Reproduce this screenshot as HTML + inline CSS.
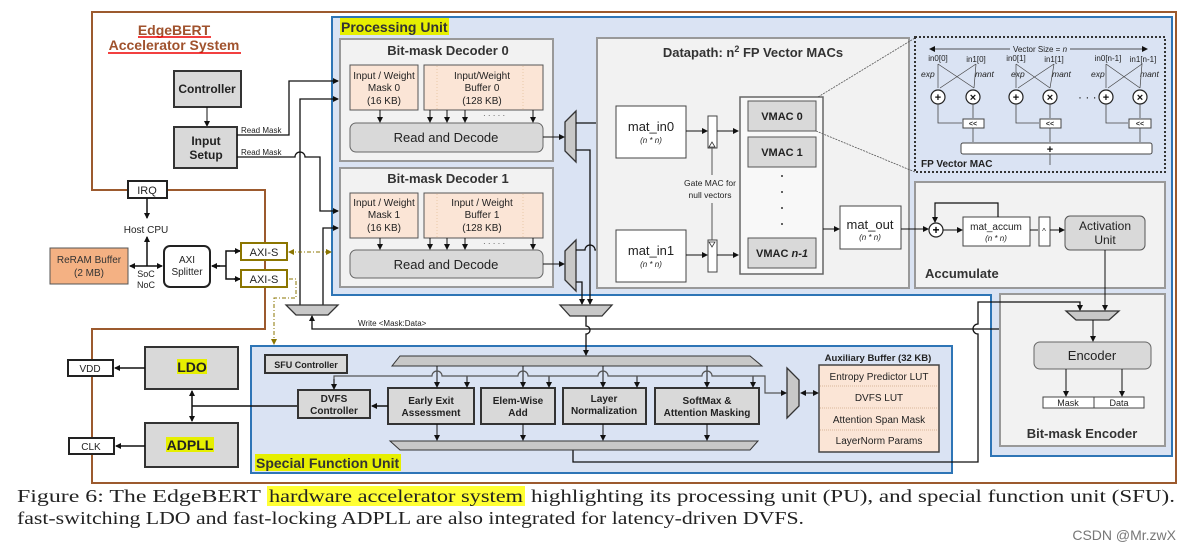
<!DOCTYPE html>
<html><head><meta charset="utf-8"><style>
html,body{margin:0;padding:0;background:#fff;}
svg{display:block;font-family:"Liberation Sans",Arial,sans-serif;}
.b{font-weight:bold}
</style></head><body>
<svg width="1191" height="549" viewBox="0 0 1191 549" xmlns="http://www.w3.org/2000/svg">
<defs>
<marker id="a" markerWidth="6" markerHeight="6" refX="5" refY="3" orient="auto" markerUnits="userSpaceOnUse"><path d="M0,0 L6,3 L0,6z" fill="#111"/></marker>
<marker id="as" markerWidth="6" markerHeight="6" refX="1" refY="3" orient="auto" markerUnits="userSpaceOnUse"><path d="M6,0 L0,3 L6,6z" fill="#111"/></marker>
<marker id="ao" markerWidth="6" markerHeight="6" refX="5" refY="3" orient="auto" markerUnits="userSpaceOnUse"><path d="M0,0 L6,3 L0,6z" fill="#8b7500"/></marker>
<marker id="aos" markerWidth="6" markerHeight="6" refX="1" refY="3" orient="auto" markerUnits="userSpaceOnUse"><path d="M6,0 L0,3 L6,6z" fill="#8b7500"/></marker>
</defs>

<path d="M92,190 L92,12 L1176,12 L1176,483 L92,483 L92,329 L265,329 L265,190 Z" fill="none" stroke="#9c5a2e" stroke-width="2"/>

<path d="M332,17 L1172,17 L1172,456 L991,456 L991,295 L332,295 Z" fill="#dae3f3" stroke="#2e75b6" stroke-width="2"/>
<rect x="340" y="18" width="109" height="17" fill="#e6ef00"/>
<text x="341" y="32" class="b" font-size="14" fill="#333">Processing Unit</text>

<rect x="251" y="346" width="701" height="127" fill="#dae3f3" stroke="#2e75b6" stroke-width="2"/>
<rect x="255" y="454" width="146" height="17" fill="#e6ef00"/>
<text x="256" y="468" class="b" font-size="14" fill="#333">Special Function Unit</text>

<text x="174" y="35" text-anchor="middle" class="b" font-size="14" fill="#a0522d">EdgeBERT</text>
<line x1="138" y1="37" x2="211" y2="37" stroke="#e00" stroke-width="1.5"/>
<text x="174" y="50" text-anchor="middle" class="b" font-size="14" fill="#a0522d">Accelerator System</text>
<line x1="108" y1="53" x2="241" y2="53" stroke="#e00" stroke-width="1.5"/>

<rect x="174" y="71" width="67" height="36" fill="#d9d9d9" stroke="#333" stroke-width="2"/>
<text x="207" y="93" text-anchor="middle" class="b" font-size="12" fill="#222">Controller</text>
<line x1="207" y1="107" x2="207" y2="126" stroke="#111" marker-end="url(#a)"/>
<rect x="174" y="127" width="63" height="41" fill="#d9d9d9" stroke="#333" stroke-width="2"/>
<text x="206" y="145" text-anchor="middle" class="b" font-size="12" fill="#222">Input</text>
<text x="206" y="159" text-anchor="middle" class="b" font-size="12" fill="#222">Setup</text>
<text x="241" y="133" font-size="8" fill="#222">Read Mask</text>
<text x="241" y="155" font-size="8" fill="#222">Read Mask</text>
<path d="M237,135 L289,135 L289,81 L338,81" fill="none" stroke="#111" stroke-width="1.3" marker-end="url(#a)"/>
<path d="M237,157 L295,157 A5,5 0 0 1 305,157 L320,157 L320,211 L338,211" fill="none" stroke="#111" stroke-width="1.3" marker-end="url(#a)"/>
<path d="M300,305 L300,99 L338,99" fill="none" stroke="#111" stroke-width="1.3" marker-end="url(#a)"/>
<path d="M323,305 L323,228 L338,228" fill="none" stroke="#111" stroke-width="1.3" marker-end="url(#a)"/>

<rect x="340" y="39" width="213" height="122" fill="#f2f2f2" stroke="#999" stroke-width="2"/>
<text x="448" y="55" text-anchor="middle" class="b" font-size="13" fill="#333">Bit-mask Decoder 0</text>
<rect x="350" y="65" width="68" height="45" fill="#fbe5d6" stroke="#555"/>
<text x="384" y="79" text-anchor="middle" font-size="10" fill="#222">Input / Weight</text>
<text x="384" y="91" text-anchor="middle" font-size="10" fill="#222">Mask 0</text>
<text x="384" y="104" text-anchor="middle" font-size="10" fill="#222">(16 KB)</text>
<rect x="424" y="65" width="119" height="45" fill="#fbe5d6" stroke="#555"/>
<line x1="437" y1="66" x2="437" y2="109" stroke="#e8c9a8" stroke-dasharray="1,2"/>
<line x1="523" y1="66" x2="523" y2="109" stroke="#e8c9a8" stroke-dasharray="1,2"/>
<text x="482" y="79" text-anchor="middle" font-size="10" fill="#222">Input/Weight</text>
<text x="482" y="91" text-anchor="middle" font-size="10" fill="#222">Buffer 0</text>
<text x="482" y="104" text-anchor="middle" font-size="10" fill="#222">(128 KB)</text>
<rect x="350" y="123" width="193" height="29" rx="6" fill="#d9d9d9" stroke="#666"/>
<text x="446" y="142" text-anchor="middle" font-size="13" fill="#222">Read and Decode</text>
<g stroke="#111" marker-end="url(#a)"><line x1="380" y1="110" x2="380" y2="122"/><line x1="430" y1="110" x2="430" y2="122"/><line x1="447" y1="110" x2="447" y2="122"/><line x1="465" y1="110" x2="465" y2="122"/><line x1="533" y1="110" x2="533" y2="122"/></g>
<text x="483" y="118" font-size="8" fill="#444">·  ·  ·  ·  ·</text>

<rect x="340" y="168" width="213" height="119" fill="#f2f2f2" stroke="#999" stroke-width="2"/>
<text x="448" y="183" text-anchor="middle" class="b" font-size="13" fill="#333">Bit-mask Decoder 1</text>
<rect x="350" y="193" width="68" height="45" fill="#fbe5d6" stroke="#555"/>
<text x="384" y="206" text-anchor="middle" font-size="10" fill="#222">Input / Weight</text>
<text x="384" y="218" text-anchor="middle" font-size="10" fill="#222">Mask 1</text>
<text x="384" y="231" text-anchor="middle" font-size="10" fill="#222">(16 KB)</text>
<rect x="424" y="193" width="119" height="45" fill="#fbe5d6" stroke="#555"/>
<line x1="437" y1="194" x2="437" y2="237" stroke="#e8c9a8" stroke-dasharray="1,2"/>
<line x1="523" y1="194" x2="523" y2="237" stroke="#e8c9a8" stroke-dasharray="1,2"/>
<text x="482" y="206" text-anchor="middle" font-size="10" fill="#222">Input / Weight</text>
<text x="482" y="218" text-anchor="middle" font-size="10" fill="#222">Buffer 1</text>
<text x="482" y="231" text-anchor="middle" font-size="10" fill="#222">(128 KB)</text>
<rect x="350" y="250" width="193" height="28" rx="6" fill="#d9d9d9" stroke="#666"/>
<text x="446" y="269" text-anchor="middle" font-size="13" fill="#222">Read and Decode</text>
<g stroke="#111" marker-end="url(#a)"><line x1="380" y1="238" x2="380" y2="249"/><line x1="430" y1="238" x2="430" y2="249"/><line x1="447" y1="238" x2="447" y2="249"/><line x1="465" y1="238" x2="465" y2="249"/><line x1="533" y1="238" x2="533" y2="249"/></g>
<text x="483" y="246" font-size="8" fill="#444">·  ·  ·  ·  ·</text>

<polygon points="565,122 576,111 576,162 565,151" fill="#c8c8c8" stroke="#333" stroke-width="1.3"/>
<polygon points="565,251 576,240 576,291 565,280" fill="#c8c8c8" stroke="#333" stroke-width="1.3"/>
<line x1="543" y1="137" x2="564" y2="137" stroke="#111" marker-end="url(#a)"/>
<line x1="543" y1="264" x2="564" y2="264" stroke="#111" marker-end="url(#a)"/>
<line x1="576" y1="123" x2="615" y2="123" stroke="#111" stroke-width="1.3" marker-end="url(#a)"/>
<path d="M576,250 L585,250 A5,5 0 0 1 595,250 L615,250" fill="none" stroke="#111" stroke-width="1.3" marker-end="url(#a)"/>
<path d="M576,150 L590,150 L590,304" fill="none" stroke="#111" stroke-width="1.3" marker-end="url(#a)"/>
<path d="M576,282 L582,282 L582,304" fill="none" stroke="#111" stroke-width="1.3" marker-end="url(#a)"/>
<polygon points="560,305 612,305 602,316 570,316" fill="#c8c8c8" stroke="#333" stroke-width="1.3"/>
<path d="M586,316 L586,326 A4,4 0 0 1 586,334 L586,355" fill="none" stroke="#111" stroke-width="1.3" marker-end="url(#a)"/>

<polygon points="286,305 338,305 328,315 296,315" fill="#c8c8c8" stroke="#333" stroke-width="1.3"/>
<text x="358" y="326" font-size="8" fill="#222">Write &lt;Mask:Data&gt;</text>
<path d="M1043,403 L1022,403 L1022,329 L312,329 L312,316" fill="none" stroke="#111" stroke-width="1.3" marker-end="url(#a)"/>

<rect x="597" y="38" width="312" height="250" fill="#f2f2f2" stroke="#999" stroke-width="2"/>
<text x="753" y="57" text-anchor="middle" class="b" font-size="13" fill="#333">Datapath: n<tspan font-size="9" dy="-5">2</tspan><tspan dy="5"> FP Vector MACs</tspan></text>
<rect x="616" y="106" width="70" height="52" fill="#fff" stroke="#444"/>
<text x="651" y="131" text-anchor="middle" font-size="13" fill="#222">mat_in0</text>
<text x="651" y="143" text-anchor="middle" font-size="8" font-style="italic" fill="#222">(n * n)</text>
<rect x="616" y="230" width="70" height="52" fill="#fff" stroke="#444"/>
<text x="651" y="255" text-anchor="middle" font-size="13" fill="#222">mat_in1</text>
<text x="651" y="267" text-anchor="middle" font-size="8" font-style="italic" fill="#222">(n * n)</text>
<rect x="708" y="116" width="9" height="32" fill="#fff" stroke="#444"/>
<rect x="708" y="240" width="9" height="32" fill="#fff" stroke="#444"/>
<line x1="686" y1="131" x2="707" y2="131" stroke="#111" marker-end="url(#a)"/>
<line x1="717" y1="131" x2="738" y2="131" stroke="#111" marker-end="url(#a)"/>
<line x1="686" y1="255" x2="707" y2="255" stroke="#111" marker-end="url(#a)"/>
<line x1="717" y1="255" x2="738" y2="255" stroke="#111" marker-end="url(#a)"/>
<line x1="712" y1="148" x2="712" y2="175" stroke="#555"/>
<line x1="712" y1="203" x2="712" y2="240" stroke="#555"/>
<polygon points="709,147 715,147 712,142" fill="none" stroke="#333" stroke-width="0.8"/>
<polygon points="709,242 715,242 712,247" fill="none" stroke="#333" stroke-width="0.8"/>
<text x="710" y="186" text-anchor="middle" font-size="8.5" fill="#222">Gate MAC for</text>
<text x="710" y="198" text-anchor="middle" font-size="8.5" fill="#222">null vectors</text>
<rect x="740" y="97" width="83" height="177" fill="#f8f8f8" stroke="#666" stroke-width="1.5"/>
<rect x="748" y="101" width="68" height="30" fill="#d9d9d9" stroke="#555"/>
<text x="782" y="120" text-anchor="middle" class="b" font-size="11" fill="#222">VMAC 0</text>
<rect x="748" y="137" width="68" height="30" fill="#d9d9d9" stroke="#555"/>
<text x="782" y="156" text-anchor="middle" class="b" font-size="11" fill="#222">VMAC 1</text>
<rect x="748" y="238" width="68" height="30" fill="#d9d9d9" stroke="#555"/>
<text x="782" y="257" text-anchor="middle" class="b" font-size="11" fill="#222">VMAC <tspan font-style="italic">n-1</tspan></text>
<g fill="#333"><circle cx="782" cy="176" r="1"/><circle cx="782" cy="192" r="1"/><circle cx="782" cy="208" r="1"/><circle cx="782" cy="224" r="1"/></g>
<line x1="823" y1="229" x2="839" y2="229" stroke="#111" marker-end="url(#a)"/>
<rect x="840" y="206" width="61" height="43" fill="#fff" stroke="#444"/>
<text x="870" y="229" text-anchor="middle" font-size="13" fill="#222">mat_out</text>
<text x="870" y="240" text-anchor="middle" font-size="8" font-style="italic" fill="#222">(n * n)</text>
<line x1="818" y1="97" x2="915" y2="38" stroke="#555" stroke-width="0.8" stroke-dasharray="2,1"/>
<line x1="816" y1="131" x2="915" y2="172" stroke="#555" stroke-width="0.8" stroke-dasharray="2,1"/>

<rect x="915" y="37" width="250" height="135" fill="#dae3f3" stroke="#333" stroke-width="2" stroke-dasharray="2,2"/>
<text x="1040" y="52" text-anchor="middle" font-size="8" fill="#222">Vector Size = <tspan font-style="italic">n</tspan></text>
<line x1="1010" y1="49" x2="930" y2="49" stroke="#222" stroke-width="0.8" marker-end="url(#a)"/>
<line x1="1070" y1="49" x2="1147" y2="49" stroke="#222" stroke-width="0.8" marker-end="url(#a)"/>
<g font-size="8" fill="#222" text-anchor="middle">
<text x="938" y="61">in0[0]</text><text x="976" y="62">in1[0]</text>
<text x="1016" y="61">in0[1]</text><text x="1054" y="62">in1[1]</text>
<text x="1108" y="61">in0[n-1]</text><text x="1143" y="62">in1[n-1]</text>
</g>
<g font-size="8.5" font-style="italic" fill="#222">
<text x="921" y="77">exp</text><text x="975" y="77">mant</text>
<text x="1011" y="77">exp</text><text x="1052" y="77">mant</text>
<text x="1091" y="77">exp</text><text x="1140" y="77">mant</text>
</g>
<g stroke="#444" stroke-width="0.7" fill="none">
<path d="M938,64 L974,88 M976,64 L940,88 M938,64 L938,88 M976,64 L974,88"/>
<path d="M1016,64 L1050,88 M1054,64 L1018,88 M1016,64 L1016,88 M1054,64 L1050,88"/>
<path d="M1106,64 L1140,88 M1142,64 L1108,88 M1106,64 L1106,88 M1142,64 L1140,88"/>
</g>
<g fill="#fff" stroke="#222" stroke-width="1.2">
<circle cx="938" cy="97" r="7"/><circle cx="973" cy="97" r="7"/>
<circle cx="1016" cy="97" r="7"/><circle cx="1050" cy="97" r="7"/>
<circle cx="1106" cy="97" r="7"/><circle cx="1140" cy="97" r="7"/>
</g>
<g font-size="11" class="b" fill="#111" text-anchor="middle">
<text x="938" y="101">+</text><text x="973" y="101">×</text>
<text x="1016" y="101">+</text><text x="1050" y="101">×</text>
<text x="1106" y="101">+</text><text x="1140" y="101">×</text>
</g>
<text x="1078" y="101" font-size="12" fill="#222">· · ·</text>
<g stroke="#444" stroke-width="0.8" fill="none">
<path d="M938,104 L938,123 L962,123"/><path d="M1016,104 L1016,123 L1039,123"/><path d="M1106,104 L1106,123 L1128,123"/>
<path d="M973,104 L973,118 M1050,104 L1050,118 M1140,104 L1140,118"/>
<path d="M973,128 L973,142 M1050,128 L1050,142 M1140,128 L1140,142"/>
<path d="M1050,154 L1050,165"/>
</g>
<g fill="#fff" stroke="#444"><rect x="963" y="119" width="21" height="9"/><rect x="1040" y="119" width="21" height="9"/><rect x="1129" y="119" width="22" height="9"/></g>
<g font-size="7" class="b" fill="#222" text-anchor="middle"><text x="973" y="126">&lt;&lt;</text><text x="1050" y="126">&lt;&lt;</text><text x="1140" y="126">&lt;&lt;</text></g>
<rect x="961" y="143" width="191" height="11" rx="2" fill="#fff" stroke="#444"/>
<text x="1050" y="153" text-anchor="middle" font-size="11" class="b" fill="#111">+</text>
<text x="921" y="167" class="b" font-size="10" fill="#222">FP Vector MAC</text>

<rect x="915" y="182" width="250" height="106" fill="#f2f2f2" stroke="#999" stroke-width="2"/>
<line x1="901" y1="229" x2="928" y2="229" stroke="#111" marker-end="url(#a)"/>
<circle cx="936" cy="230" r="7" fill="#fff" stroke="#222" stroke-width="1.2"/>
<text x="936" y="234" text-anchor="middle" font-size="12" class="b">+</text>
<line x1="943" y1="230" x2="962" y2="230" stroke="#111" marker-end="url(#a)"/>
<rect x="963" y="217" width="67" height="29" fill="#fff" stroke="#444"/>
<text x="996" y="230" text-anchor="middle" font-size="10" fill="#222">mat_accum</text>
<text x="996" y="241" text-anchor="middle" font-size="8" font-style="italic" fill="#222">(n * n)</text>
<path d="M998,217 L998,203 L935,203 L935,222" fill="none" stroke="#111" stroke-width="1.2" marker-end="url(#a)"/>
<line x1="1030" y1="230" x2="1038" y2="230" stroke="#111"/>
<rect x="1039" y="217" width="11" height="29" fill="#fff" stroke="#444"/>
<text x="1044" y="234" text-anchor="middle" font-size="8" fill="#222">^</text>
<line x1="1050" y1="230" x2="1064" y2="230" stroke="#111" marker-end="url(#a)"/>
<rect x="1065" y="216" width="80" height="34" rx="5" fill="#d9d9d9" stroke="#555"/>
<text x="1105" y="230" text-anchor="middle" font-size="12" fill="#222">Activation</text>
<text x="1105" y="244" text-anchor="middle" font-size="12" fill="#222">Unit</text>
<text x="925" y="278" class="b" font-size="13" fill="#333">Accumulate</text>

<rect x="1000" y="294" width="165" height="152" fill="#f2f2f2" stroke="#999" stroke-width="2"/>
<line x1="1105" y1="250" x2="1105" y2="310" stroke="#111" marker-end="url(#a)"/>
<polygon points="1066,311 1119,311 1109,320 1076,320" fill="#c8c8c8" stroke="#333" stroke-width="1.3"/>
<line x1="1093" y1="320" x2="1093" y2="341" stroke="#111" marker-end="url(#a)"/>
<rect x="1034" y="342" width="117" height="27" rx="6" fill="#d9d9d9" stroke="#666"/>
<text x="1092" y="360" text-anchor="middle" font-size="13" fill="#222">Encoder</text>
<line x1="1066" y1="369" x2="1066" y2="396" stroke="#111" marker-end="url(#a)"/>
<line x1="1122" y1="369" x2="1122" y2="396" stroke="#111" marker-end="url(#a)"/>
<rect x="1043" y="397" width="51" height="11" fill="#fff" stroke="#444"/>
<rect x="1094" y="397" width="50" height="11" fill="#fff" stroke="#444"/>
<text x="1068" y="406" text-anchor="middle" font-size="9" fill="#222">Mask</text>
<text x="1119" y="406" text-anchor="middle" font-size="9" fill="#222">Data</text>
<text x="1082" y="438" text-anchor="middle" class="b" font-size="13" fill="#333">Bit-mask Encoder</text>
<path d="M573,450 L573,462 L978,462 L978,334 A5,5 0 0 1 978,324 L978,302 L1080,302 L1080,310" fill="none" stroke="#111" stroke-width="1.3" marker-end="url(#a)"/>

<rect x="128" y="181" width="39" height="17" fill="#fff" stroke="#222" stroke-width="2"/>
<text x="147" y="194" text-anchor="middle" font-size="11" fill="#222">IRQ</text>
<line x1="147" y1="198" x2="147" y2="218" stroke="#111" stroke-width="1.5" marker-end="url(#a)"/>
<text x="146" y="233" text-anchor="middle" font-size="10" fill="#222">Host CPU</text>
<rect x="50" y="248" width="78" height="36" fill="#f4b183" stroke="#555"/>
<text x="89" y="263" text-anchor="middle" font-size="10" fill="#333">ReRAM Buffer</text>
<text x="89" y="276" text-anchor="middle" font-size="10" fill="#333">(2 MB)</text>
<line x1="130" y1="266" x2="162" y2="266" stroke="#111" stroke-width="1.5" marker-start="url(#as)" marker-end="url(#a)"/>
<line x1="147" y1="266" x2="147" y2="237" stroke="#111" stroke-width="1.5" marker-end="url(#a)"/>
<text x="146" y="277" text-anchor="middle" font-size="9" fill="#222">SoC</text>
<text x="146" y="288" text-anchor="middle" font-size="9" fill="#222">NoC</text>
<rect x="164" y="246" width="46" height="41" rx="6" fill="#fff" stroke="#222" stroke-width="2"/>
<text x="187" y="263" text-anchor="middle" font-size="10" fill="#222">AXI</text>
<text x="187" y="275" text-anchor="middle" font-size="10" fill="#222">Splitter</text>
<path d="M212,266 L226,266 L226,251 L240,251 M226,266 L226,279 L240,279" fill="none" stroke="#111" stroke-width="1.5"/>
<line x1="220" y1="266" x2="212" y2="266" stroke="#111" stroke-width="1.5" marker-end="url(#a)"/>
<line x1="234" y1="251" x2="240" y2="251" stroke="#111" stroke-width="1.5" marker-end="url(#a)"/>
<line x1="234" y1="279" x2="240" y2="279" stroke="#111" stroke-width="1.5" marker-end="url(#a)"/>
<rect x="241" y="243" width="46" height="17" fill="#fff" stroke="#8b7500" stroke-width="2"/>
<text x="264" y="256" text-anchor="middle" font-size="11" fill="#222">AXI-S</text>
<rect x="241" y="270" width="46" height="17" fill="#fff" stroke="#8b7500" stroke-width="2"/>
<text x="264" y="283" text-anchor="middle" font-size="11" fill="#222">AXI-S</text>
<line x1="289" y1="252" x2="331" y2="252" stroke="#8b7500" stroke-width="1" stroke-dasharray="4,2,1,2" marker-start="url(#aos)" marker-end="url(#ao)"/>
<path d="M289,279 L296,279 L296,298 L274,298 L274,344" fill="none" stroke="#8b7500" stroke-width="1" stroke-dasharray="4,2,1,2" marker-end="url(#ao)"/>

<rect x="68" y="360" width="45" height="16" fill="#fff" stroke="#222" stroke-width="2"/>
<text x="90" y="372" text-anchor="middle" font-size="10" fill="#222">VDD</text>
<rect x="69" y="438" width="45" height="16" fill="#fff" stroke="#222" stroke-width="2"/>
<text x="91" y="450" text-anchor="middle" font-size="10" fill="#222">CLK</text>
<rect x="145" y="347" width="93" height="42" fill="#d9d9d9" stroke="#333" stroke-width="2"/>
<rect x="177" y="359" width="30" height="15" fill="#e6ef00"/>
<text x="192" y="372" text-anchor="middle" class="b" font-size="14" fill="#222">LDO</text>
<rect x="145" y="423" width="93" height="44" fill="#d9d9d9" stroke="#333" stroke-width="2"/>
<rect x="166" y="437" width="48" height="15" fill="#e6ef00"/>
<text x="190" y="450" text-anchor="middle" class="b" font-size="14" fill="#222">ADPLL</text>
<line x1="145" y1="368" x2="115" y2="368" stroke="#111" stroke-width="1.5" marker-end="url(#a)"/>
<line x1="145" y1="446" x2="116" y2="446" stroke="#111" stroke-width="1.5" marker-end="url(#a)"/>
<line x1="192" y1="391" x2="192" y2="421" stroke="#111" stroke-width="1.5" marker-start="url(#as)" marker-end="url(#a)"/>
<line x1="192" y1="406" x2="298" y2="406" stroke="#111" stroke-width="1.5"/>

<rect x="265" y="355" width="82" height="18" fill="#d9d9d9" stroke="#333" stroke-width="2"/>
<text x="306" y="368" text-anchor="middle" class="b" font-size="9" fill="#222">SFU Controller</text>
<polygon points="400,356 750,356 762,366 392,366" fill="#c8c8c8" stroke="#333"/>
<polygon points="390,441 758,441 750,450 400,450" fill="#c8c8c8" stroke="#333"/>
<rect x="298" y="390" width="72" height="28" fill="#d9d9d9" stroke="#333" stroke-width="2"/>
<text x="334" y="402" text-anchor="middle" class="b" font-size="10" fill="#222">DVFS</text>
<text x="334" y="414" text-anchor="middle" class="b" font-size="10" fill="#222">Controller</text>
<rect x="388" y="388" width="86" height="36" fill="#d9d9d9" stroke="#333" stroke-width="2"/>
<text x="431" y="404" text-anchor="middle" class="b" font-size="10" fill="#222">Early Exit</text>
<text x="431" y="416" text-anchor="middle" class="b" font-size="10" fill="#222">Assessment</text>
<rect x="481" y="388" width="74" height="36" fill="#d9d9d9" stroke="#333" stroke-width="2"/>
<text x="518" y="404" text-anchor="middle" class="b" font-size="10" fill="#222">Elem-Wise</text>
<text x="518" y="416" text-anchor="middle" class="b" font-size="10" fill="#222">Add</text>
<rect x="563" y="388" width="83" height="36" fill="#d9d9d9" stroke="#333" stroke-width="2"/>
<text x="604" y="402" text-anchor="middle" class="b" font-size="10" fill="#222">Layer</text>
<text x="604" y="414" text-anchor="middle" class="b" font-size="10" fill="#222">Normalization</text>
<rect x="655" y="388" width="104" height="36" fill="#d9d9d9" stroke="#333" stroke-width="2"/>
<text x="707" y="404" text-anchor="middle" class="b" font-size="10" fill="#222">SoftMax &amp;</text>
<text x="707" y="416" text-anchor="middle" class="b" font-size="10" fill="#222">Attention Masking</text>
<line x1="388" y1="406" x2="372" y2="406" stroke="#111" stroke-width="1.5" marker-end="url(#a)"/>
<g stroke="#111" marker-end="url(#a)">
<line x1="437" y1="366" x2="437" y2="387"/><line x1="523" y1="366" x2="523" y2="387"/><line x1="603" y1="366" x2="603" y2="387"/><line x1="707" y1="366" x2="707" y2="387"/>
<line x1="437" y1="424" x2="437" y2="440"/><line x1="523" y1="424" x2="523" y2="440"/><line x1="603" y1="424" x2="603" y2="440"/><line x1="707" y1="424" x2="707" y2="440"/>
<line x1="467" y1="376" x2="467" y2="387"/><line x1="549" y1="376" x2="549" y2="387"/><line x1="637" y1="376" x2="637" y2="387"/><line x1="753" y1="376" x2="753" y2="387"/>
</g>
<path d="M334,389 L334,376 L432,376 A5,5 0 0 1 442,376 L518,376 A5,5 0 0 1 528,376 L598,376 A5,5 0 0 1 608,376 L702,376 A5,5 0 0 1 712,376 L765,376 L765,393 L786,393" fill="none" stroke="#555" stroke-width="1.2" marker-end="url(#a)"/>
<line x1="334" y1="379" x2="334" y2="389" stroke="#111" marker-end="url(#a)"/>
<polygon points="787,368 799,380 799,406 787,418" fill="#c8c8c8" stroke="#333" stroke-width="1.3"/>
<line x1="801" y1="393" x2="818" y2="393" stroke="#111" marker-start="url(#as)" marker-end="url(#a)"/>
<text x="878" y="361" text-anchor="middle" class="b" font-size="9.5" fill="#222">Auxiliary Buffer (32 KB)</text>
<rect x="819" y="365" width="120" height="87" fill="#fbe5d6" stroke="#444" stroke-width="1.5"/>
<g stroke="#d9b89a" stroke-dasharray="1,1"><line x1="820" y1="386" x2="938" y2="386"/><line x1="820" y1="408" x2="938" y2="408"/><line x1="820" y1="430" x2="938" y2="430"/></g>
<g font-size="10" fill="#222" text-anchor="middle">
<text x="879" y="380">Entropy Predictor LUT</text>
<text x="879" y="401">DVFS LUT</text>
<text x="879" y="423">Attention Span Mask</text>
<text x="879" y="444">LayerNorm Params</text>
</g>

<g font-family="'Liberation Serif','DejaVu Serif',serif" font-size="17.5" fill="#222">
<rect x="267" y="486" width="258" height="20" fill="#ffff33"/>
<text x="17" y="502" textLength="244" lengthAdjust="spacingAndGlyphs">Figure 6:  The EdgeBERT</text>
<text x="269" y="502" textLength="254" lengthAdjust="spacingAndGlyphs">hardware accelerator system</text>
<text x="531" y="502" textLength="644" lengthAdjust="spacingAndGlyphs">highlighting its processing unit (PU), and special function unit (SFU).</text>
<text x="17" y="524" textLength="787" lengthAdjust="spacingAndGlyphs">fast-switching LDO and fast-locking ADPLL are also integrated for latency-driven DVFS.</text>
</g>
<text x="1176" y="540" text-anchor="end" font-size="14" fill="#777">CSDN @Mr.zwX</text>
</svg>
</body></html>
